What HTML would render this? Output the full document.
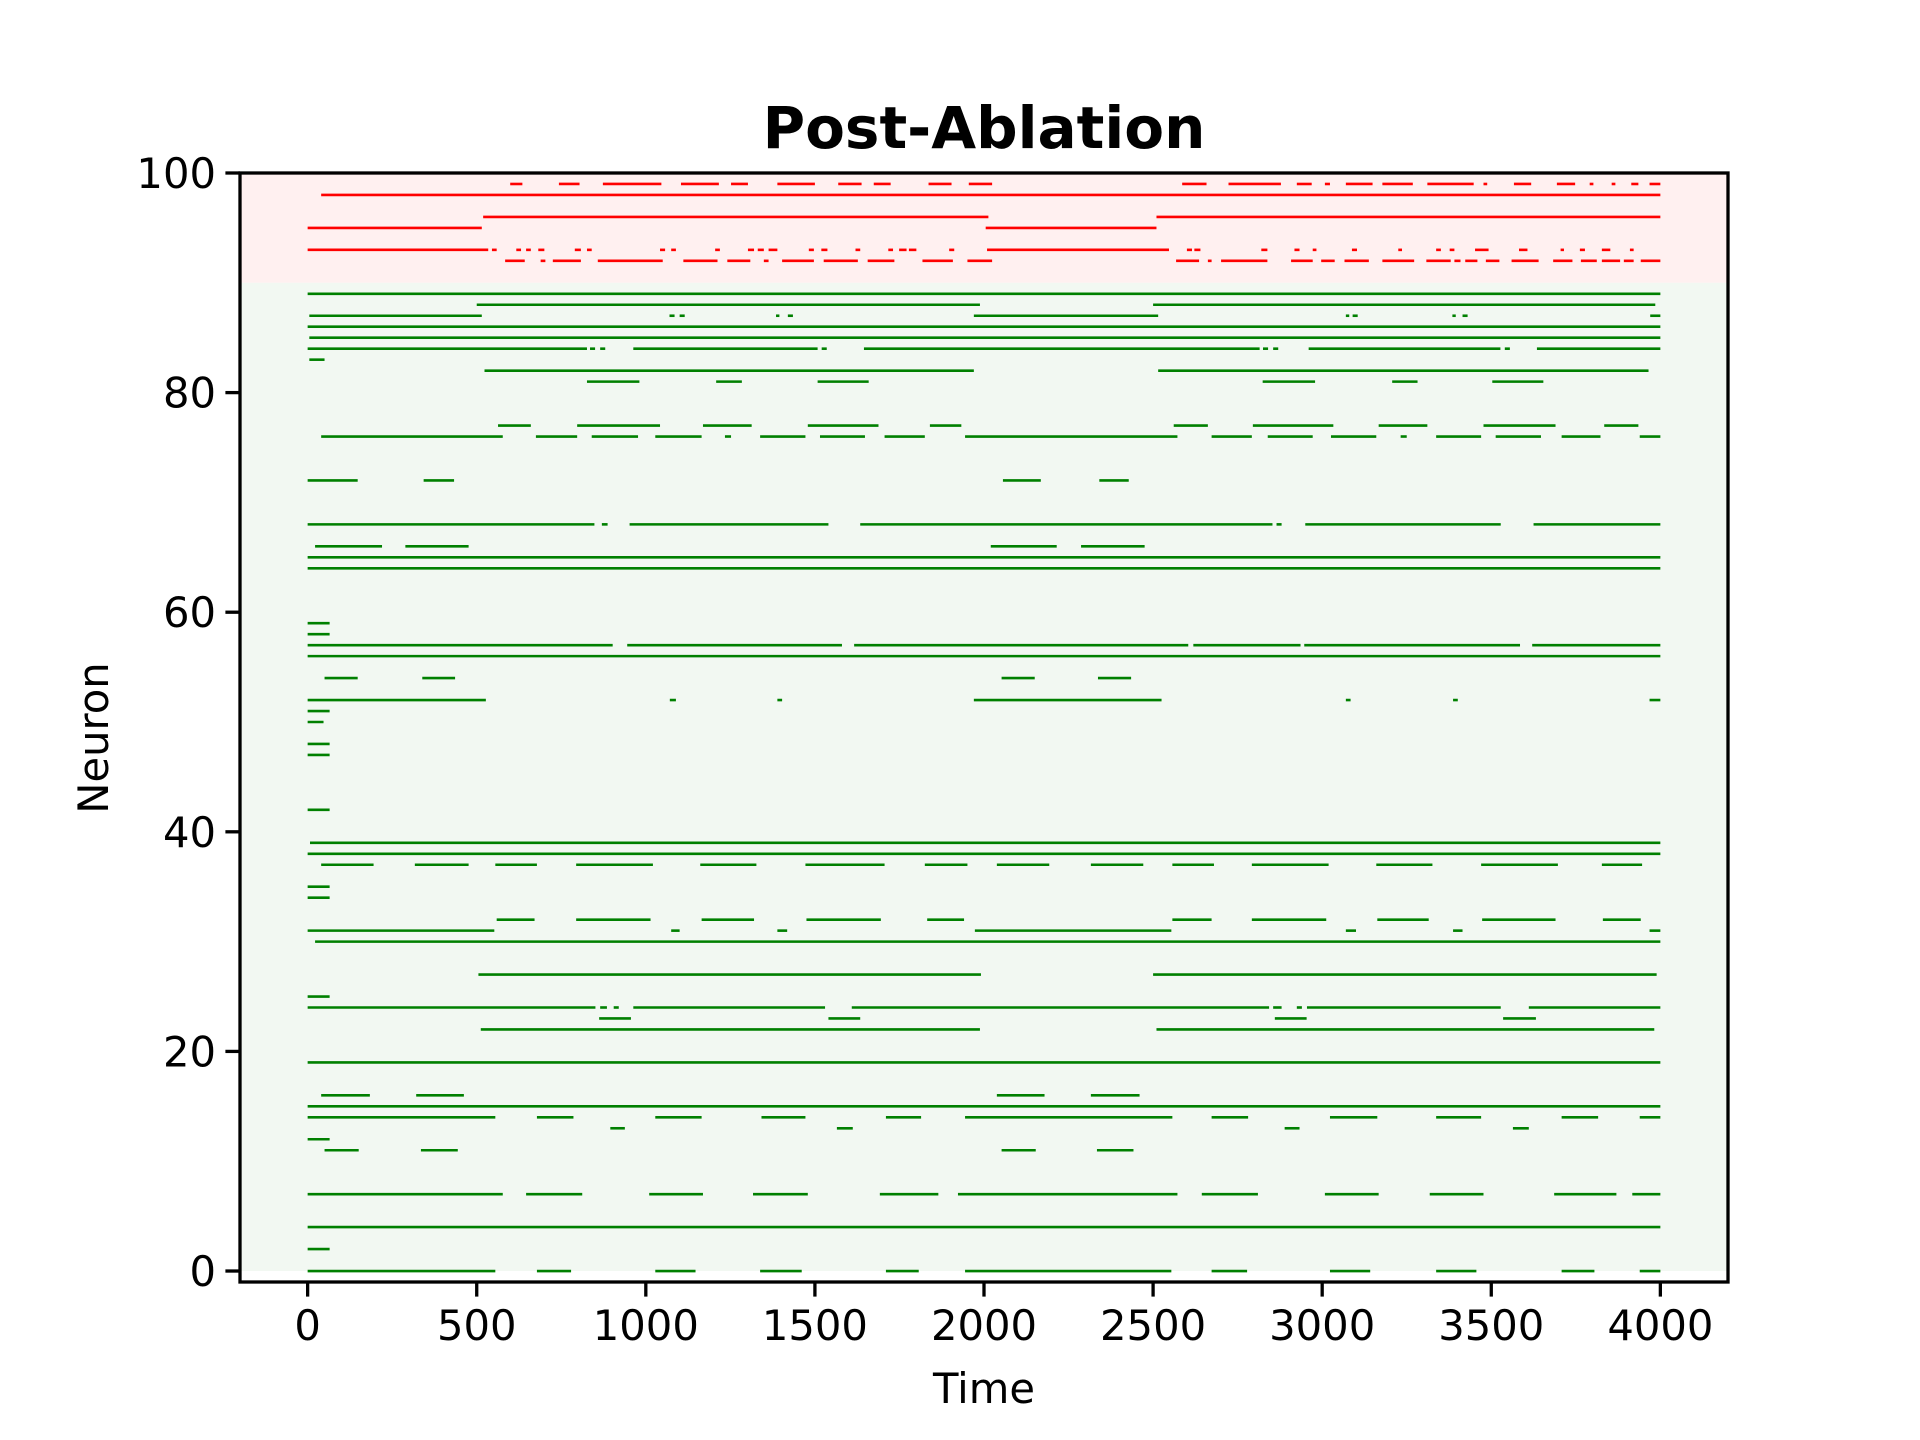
<!DOCTYPE html>
<html>
<head>
<meta charset="utf-8">
<style>
html,body{margin:0;padding:0;background:#fff;}
svg{display:block;font-family:"DejaVu Sans","Liberation Sans",sans-serif;}
</style>
</head>
<body>
<svg id="chart" width="1920" height="1440" viewBox="0 0 1920 1440" xmlns="http://www.w3.org/2000/svg">
  <rect x="0" y="0" width="1920" height="1440" fill="#ffffff"/>
  <g id="plot"></g>
  <text x="984" y="148" text-anchor="middle" font-size="58" font-weight="bold">Post-Ablation</text>
  <text x="984" y="1403" text-anchor="middle" font-size="41.7">Time</text>
  <text transform="translate(108,738) rotate(-90)" text-anchor="middle" font-size="41.7">Neuron</text>
</svg>
<script>
const xTicks = [0,500,1000,1500,2000,2500,3000,3500,4000];
const yTicks = [0,20,40,60,80,100];
const ablatedNeurons = [99,98,96,95,93,92];
const spikes99 = [[599,635],[743,804],[873,1046],[1104,1216],[1252,1302],[1389,1500],[1569,1638],[1674,1724],[1836,1904],[1955,2024],[2586,2658],[2723,2878],[2925,2969],[3008,3023],[3070,3149],[3178,3268],[3311,3448],[3477,3488],[3567,3618],[3694,3748],[3791,3802],[3856,3867],[3914,3935],[3968,4000]];
const spikes98 = [[40,4000]];
const spikes96 = [[519,2013],[2510,4000]];
const spikes95 = [[0,515],[2005,2510]];
const spikes93 = [[0,534],[545,559],[617,631],[646,660],[682,700],[790,808],[826,840],[1042,1057],[1075,1089],[1205,1219],[1302,1320],[1331,1349],[1363,1389],[1482,1497],[1519,1537],[1620,1634],[1717,1731],[1749,1771],[1778,1800],[1897,1912],[2009,2547],[2600,2615],[2622,2640],[2820,2838],[2918,2933],[2972,2983],[3088,3103],[3225,3236],[3337,3351],[3377,3391],[3452,3492],[3582,3607],[3705,3715],[3762,3777],[3827,3852],[3910,3921]];
const spikes92 = [[584,642],[689,703],[725,808],[858,1050],[1111,1212],[1241,1309],[1349,1363],[1403,1497],[1526,1627],[1656,1735],[1818,1908],[1951,2024],[2568,2636],[2662,2673],[2701,2838],[2908,2972],[2997,3037],[3066,3138],[3178,3272],[3308,3380],[3391,3409],[3423,3459],[3484,3524],[3560,3640],[3683,3740],[3765,3812],[3827,3881],[3892,3921],[3942,4000]];
const redRows = [[99,spikes99],[98,spikes98],[96,spikes96],[95,spikes95],[93,spikes93],[92,spikes92]];
const greenRows = [
 [89,[[0,4000]]],
 [88,[[500,1988],[2500,3985]]],
 [87,[[5,515],[1070,1085],[1100,1115],[1385,1395],[1420,1435],[1970,2515],[3070,3080],[3090,3105],[3385,3395],[3415,3430],[3970,4000]]],
 [86,[[0,4000]]],
 [85,[[5,4000]]],
 [84,[[0,826],[835,850],[865,880],[963,1508],[1520,1535],[1645,2815],[2825,2840],[2855,2870],[2960,3527],[3540,3555],[3635,4000]]],
 [83,[[5,50]]],
 [82,[[523,1970],[2515,3965]]],
 [81,[[826,981],[1208,1284],[1508,1659],[2824,2979],[3207,3282],[3503,3654]]],
 [77,[[563,660],[797,1042],[1169,1313],[1479,1688],[1840,1933],[2561,2662],[2795,3033],[3167,3311],[3477,3690],[3834,3935]]],
 [76,[[40,577],[675,797],[840,977],[1028,1165],[1234,1252],[1338,1472],[1515,1648],[1706,1825],[1944,2572],[2673,2792],[2839,2972],[3026,3160],[3232,3250],[3337,3470],[3513,3647],[3708,3823],[3939,4000]]],
 [72,[[0,148],[343,433],[2056,2168],[2341,2428]]],
 [68,[[0,848],[870,887],[952,1540],[1634,2853],[2865,2880],[2950,3528],[3625,4000]]],
 [66,[[22,220],[289,476],[2020,2215],[2287,2475]]],
 [65,[[0,4000]]],
 [64,[[0,4000]]],
 [59,[[0,65]]],
 [58,[[0,65]]],
 [57,[[0,902],[945,1580],[1616,2604],[2619,2936],[2947,3585],[3621,4000]]],
 [56,[[0,4000]]],
 [54,[[50,148],[339,436],[2052,2150],[2337,2435]]],
 [52,[[0,527],[1071,1089],[1389,1403],[1970,2525],[3070,3084],[3387,3401],[3968,4000]]],
 [51,[[0,65]]],
 [50,[[0,47]]],
 [48,[[0,65]]],
 [47,[[0,65]]],
 [42,[[0,65]]],
 [39,[[7,4000]]],
 [38,[[0,4000]]],
 [37,[[40,195],[317,476],[555,678],[794,1021],[1161,1327],[1472,1706],[1825,1951],[2038,2193],[2316,2471],[2557,2680],[2792,3019],[3160,3326],[3470,3697],[3827,3946]]],
 [35,[[0,65]]],
 [34,[[0,65]]],
 [32,[[559,671],[794,1014],[1165,1320],[1475,1695],[1832,1941],[2557,2673],[2792,3012],[3163,3315],[3473,3690],[3830,3942]]],
 [31,[[0,552],[1075,1100],[1389,1418],[1973,2554],[3070,3100],[3387,3415],[3968,4000]]],
 [30,[[22,4000]]],
 [27,[[505,1991],[2500,3989]]],
 [25,[[0,65]]],
 [24,[[0,851],[865,885],[905,920],[963,1530],[1609,2843],[2855,2880],[2925,2940],[2955,3528],[3611,4000]]],
 [23,[[862,956],[1540,1634],[2860,2954],[3535,3632]]],
 [22,[[512,1988],[2510,3982]]],
 [19,[[0,4000]]],
 [16,[[40,184],[321,462],[2038,2179],[2316,2460]]],
 [15,[[0,4000]]],
 [14,[[0,555],[678,786],[1028,1165],[1342,1472],[1710,1814],[1944,2557],[2673,2781],[3023,3163],[3337,3470],[3708,3816],[3939,4000]]],
 [13,[[895,938],[1565,1612],[2889,2933],[3564,3611]]],
 [12,[[0,65]]],
 [11,[[50,151],[335,444],[2052,2153],[2334,2442]]],
 [7,[[0,577],[646,812],[1010,1169],[1317,1479],[1692,1865],[1923,2572],[2644,2810],[3008,3167],[3318,3477],[3686,3870],[3917,4000]]],
 [4,[[0,4000]]],
 [2,[[0,65]]],
 [0,[[0,555],[678,779],[1028,1147],[1338,1461],[1710,1807],[1944,2554],[2673,2778],[3023,3142],[3337,3456],[3708,3805],[3939,4000]]]
];

const AX_L=240, AX_R=1728, AX_T=173, AX_B=1282;
const X_MIN=-200, X_MAX=4200, Y_MIN=-1, Y_MAX=100;
function xScale(t){return AX_L+(t-X_MIN)/(X_MAX-X_MIN)*(AX_R-AX_L);}
function yScale(n){return AX_B-(n-Y_MIN)/(Y_MAX-Y_MIN)*(AX_B-AX_T);}

const NS="http://www.w3.org/2000/svg";
const plot=document.getElementById('plot');
function mk(tag,attrs){const e=document.createElementNS(NS,tag);for(const k in attrs)e.setAttribute(k,attrs[k]);return e;}

const redBg=mk('rect',{x:AX_L,y:yScale(100),width:AX_R-AX_L,height:yScale(90)-yScale(100),fill:'#fff0f0'});


plot.appendChild(redBg);
const greenBg=mk('rect',{x:AX_L,y:yScale(90),width:AX_R-AX_L,height:yScale(0)-yScale(90),fill:'#f2f8f2'});


plot.appendChild(greenBg);

function drawRows(rows,color,label){
  rows.forEach(function(r){
    const n=r[0];
    const g=mk('g',{});
    
    
    r[1].forEach(function(s){
      const ln=mk('line',{x1:xScale(s[0]),x2:xScale(s[1]),y1:yScale(n),y2:yScale(n),stroke:color,'stroke-width':2.6});
      
      
      g.appendChild(ln);
    });
    plot.appendChild(g);
  });
}
drawRows(redRows,'#ff0000','ablated');
drawRows(greenRows,'#008000','intact');

const frame=mk('rect',{x:AX_L,y:AX_T,width:AX_R-AX_L,height:AX_B-AX_T,fill:'none',stroke:'#000','stroke-width':3.3});


plot.appendChild(frame);

xTicks.forEach(function(v){
  const x=xScale(v);
  const t=mk('line',{x1:x,x2:x,y1:AX_B,y2:AX_B+14.6,stroke:'#000','stroke-width':3.3});
  
  
  plot.appendChild(t);
  const l=mk('text',{x:x,y:AX_B+58,'text-anchor':'middle','font-size':41.7});
  
  
  l.textContent=String(v);
  plot.appendChild(l);
});
yTicks.forEach(function(v){
  const y=yScale(v);
  const t=mk('line',{x1:AX_L-14.6,x2:AX_L,y1:y,y2:y,stroke:'#000','stroke-width':3.3});
  
  
  plot.appendChild(t);
  const l=mk('text',{x:AX_L-24,y:y+15,'text-anchor':'end','font-size':41.7});
  
  
  l.textContent=String(v);
  plot.appendChild(l);
});
</script>
</body>
</html>
